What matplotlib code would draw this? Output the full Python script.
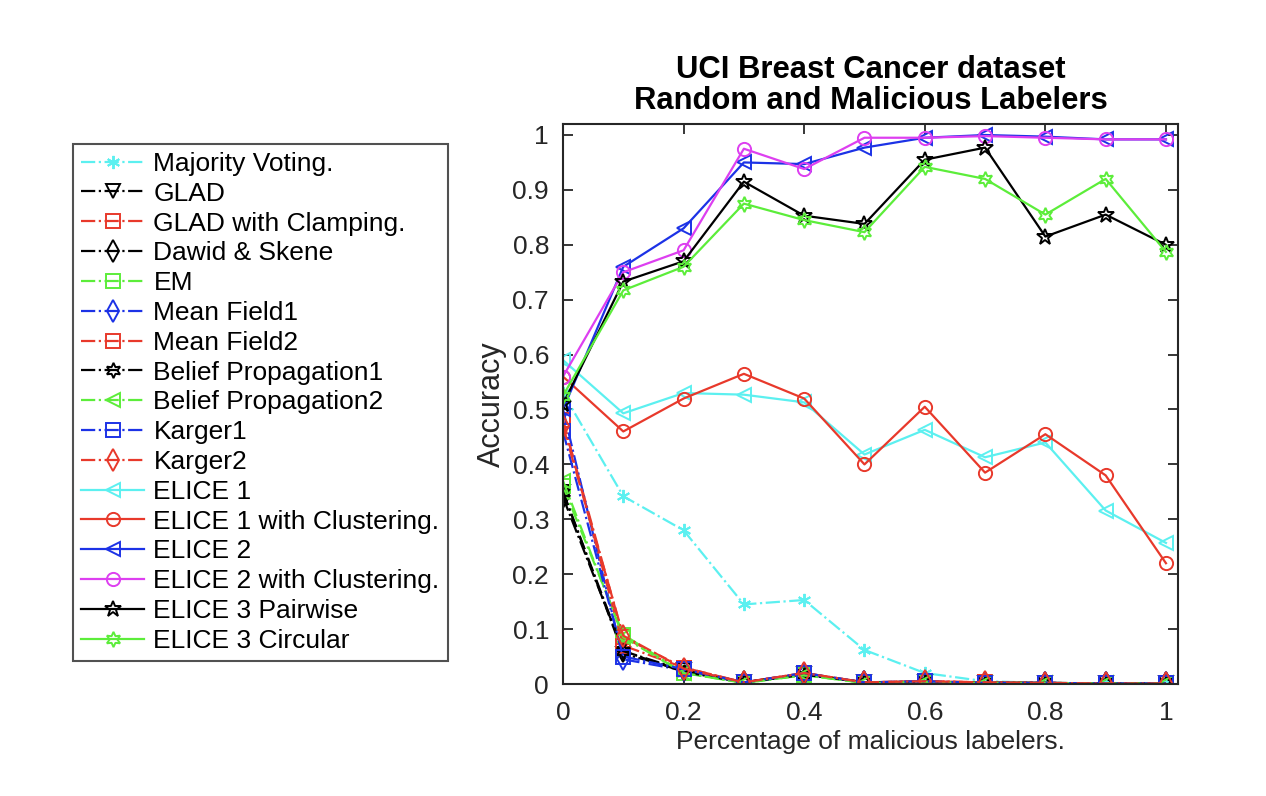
import matplotlib
matplotlib.use("Agg")
import matplotlib.pyplot as plt
from matplotlib.ticker import FuncFormatter

plt.rcParams['font.family'] = ['Liberation Sans', 'DejaVu Sans']

x = [0, 0.1, 0.2, 0.3, 0.4, 0.5, 0.6, 0.7, 0.8, 0.9, 1.0]

labels = ["Majority Voting.", "GLAD", "GLAD with Clamping.", "Dawid & Skene", "EM",
          "Mean Field1", "Mean Field2", "Belief Propagation1", "Belief Propagation2",
          "Karger1", "Karger2", "ELICE 1", "ELICE 1 with Clustering.", "ELICE 2",
          "ELICE 2 with Clustering.", "ELICE 3 Pairwise", "ELICE 3 Circular"]

majority_voting = [0.53, 0.342, 0.28, 0.145, 0.153, 0.062, 0.02, 0.005, 0.002, 0.001, 0.001]
glad = [0.35, 0.055, 0.025, 0.003, 0.018, 0.003, 0.004, 0.002, 0.002, 0.001, 0.001]
glad_clamping = [0.48, 0.085, 0.03, 0.003, 0.02, 0.003, 0.005, 0.003, 0.002, 0.001, 0.001]
dawid_skene = [0.34, 0.06, 0.025, 0.003, 0.018, 0.003, 0.004, 0.002, 0.002, 0.001, 0.001]
em = [0.36, 0.09, 0.02, 0.002, 0.016, 0.002, 0.004, 0.002, 0.002, 0.001, 0.001]
mean_field1 = [0.50, 0.045, 0.025, 0.002, 0.018, 0.003, 0.004, 0.002, 0.002, 0.001, 0.001]
mean_field2 = [0.48, 0.07, 0.03, 0.003, 0.02, 0.003, 0.005, 0.003, 0.002, 0.001, 0.001]
belief_prop1 = [0.35, 0.06, 0.022, 0.003, 0.017, 0.003, 0.004, 0.002, 0.002, 0.001, 0.001]
belief_prop2 = [0.37, 0.085, 0.02, 0.002, 0.016, 0.002, 0.004, 0.002, 0.002, 0.001, 0.001]
karger1 = [0.46, 0.05, 0.027, 0.003, 0.02, 0.003, 0.005, 0.002, 0.002, 0.001, 0.001]
karger2 = [0.47, 0.088, 0.028, 0.003, 0.02, 0.003, 0.005, 0.003, 0.002, 0.001, 0.001]
elice1 = [0.59, 0.493, 0.53, 0.527, 0.513, 0.418, 0.463, 0.413, 0.44, 0.316, 0.257]
elice1_clust = [0.56, 0.46, 0.52, 0.565, 0.52, 0.40, 0.505, 0.385, 0.455, 0.38, 0.22]
elice2 = [0.50, 0.76, 0.83, 0.95, 0.947, 0.977, 0.995, 1.0, 0.997, 0.992, 0.992]
elice2_clust = [0.56, 0.75, 0.79, 0.975, 0.938, 0.995, 0.995, 0.998, 0.995, 0.992, 0.992]
elice3_pair = [0.51, 0.733, 0.77, 0.915, 0.853, 0.838, 0.955, 0.977, 0.815, 0.855, 0.80]
elice3_circ = [0.525, 0.717, 0.76, 0.875, 0.845, 0.823, 0.942, 0.92, 0.855, 0.92, 0.787]

series = [majority_voting, glad, glad_clamping, dawid_skene, em, mean_field1, mean_field2,
          belief_prop1, belief_prop2, karger1, karger2, elice1, elice1_clust, elice2,
          elice2_clust, elice3_pair, elice3_circ]

CY = '#5cf0f0'
RD = '#e8392b'
GR = '#5ced3a'
BL = '#1c32e6'
MG = '#dd3ff0'
BK = '#000000'

asterisk = (6, 2, 0)
hexagram = (6, 1, 0)
styles = [
    (CY, asterisk, '-.'),
    (BK, 'v', '-.'),
    (RD, 's', '-.'),
    (BK, 'd', '-.'),
    (GR, 's', '-.'),
    (BL, 'd', '-.'),
    (RD, 's', '-.'),
    (BK, hexagram, '-.'),
    (GR, '<', '-.'),
    (BL, 's', '-.'),
    (RD, 'd', '-.'),
    (CY, '<', '-'),
    (RD, 'o', '-'),
    (BL, '<', '-'),
    (MG, 'o', '-'),
    (BK, '*', '-'),
    (GR, hexagram, '-'),
]

fig = plt.figure(figsize=(12.66, 7.96), dpi=100)
ax = fig.add_axes([0.4447, 0.1407, 0.4858, 0.7035])

for lab, ys, (c, m, ls) in zip(labels, series, styles):
    ms = 9.5
    if m == 'd':
        ms = 11
    if m == '*':
        ms = 12
    if m == hexagram:
        ms = 11
    ax.plot(x, ys, color=c, marker=m, linestyle=ls, linewidth=1.6,
            markersize=ms, markerfacecolor='none', markeredgecolor=c,
            markeredgewidth=1.4, label=lab)

ax.set_xlim(0, 1.02)
ax.set_ylim(0, 1.02)
ax.set_xticks([0, 0.2, 0.4, 0.6, 0.8, 1.0])
ax.set_yticks([0, 0.1, 0.2, 0.3, 0.4, 0.5, 0.6, 0.7, 0.8, 0.9, 1.0])
fmt = FuncFormatter(lambda v, p: ('%g' % round(v, 2)))
ax.xaxis.set_major_formatter(fmt)
ax.yaxis.set_major_formatter(fmt)
ax.tick_params(direction='in', length=7, width=1.3, top=True, right=True,
               labelsize=19, colors='#262626')
ax.tick_params(axis='x', pad=12)
ax.tick_params(axis='y', pad=10)
for s in ax.spines.values():
    s.set_linewidth(1.5)
    s.set_color('#262626')

ax.set_xlabel('Percentage of malicious labelers.', fontsize=19, color='#262626', labelpad=4)
ax.set_ylabel('Accuracy', fontsize=22, color='#262626', labelpad=4)
ax.set_title('UCI Breast Cancer dataset\nRandom and Malicious Labelers', fontsize=22.3,
             fontweight='bold', linespacing=1.02, pad=11)

leg = fig.legend(loc='upper left', bbox_to_anchor=(73 / 1266, 1 - 144 / 796),
                 fontsize=19, frameon=True, fancybox=False, edgecolor='#262626',
                 handlelength=2.4, handletextpad=0.35, labelspacing=0.22,
                 borderpad=0.3, borderaxespad=0)
leg.get_frame().set_linewidth(1.5)
for t in leg.get_texts():
    t.set_color('#000000')

fig.savefig('out.png', dpi=100)
